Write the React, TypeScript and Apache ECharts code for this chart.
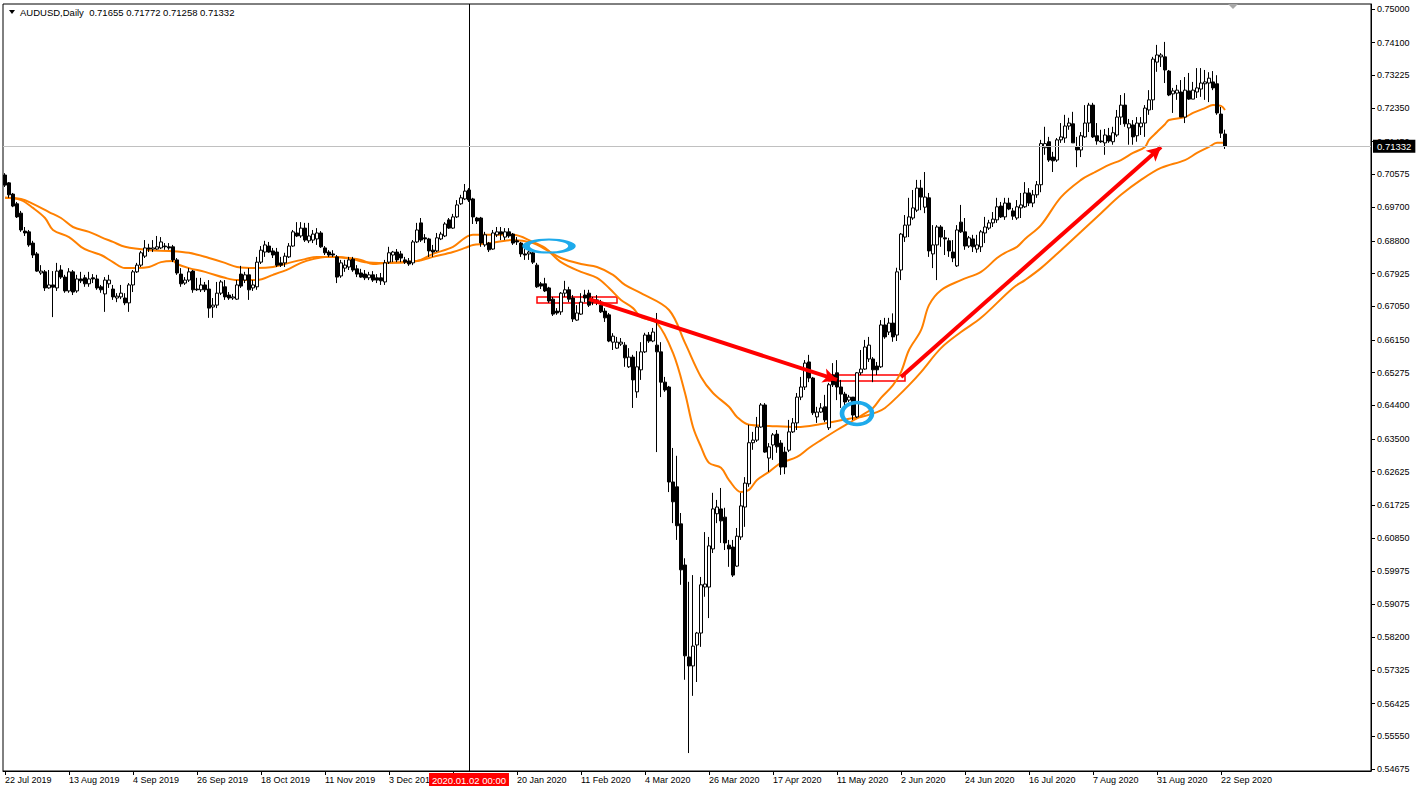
import React, { useEffect, useRef } from "react";
import * as echarts from "echarts";

// ---------- data ----------
const SYMBOL = "AUDUSD";
const PERIOD = "Daily";
const START = [2019, 6, 22]; // 22 Jul 2019
const HOLIDAYS = ["2019-12-25", "2020-01-01"];
const BAR_COUNT = 306;
const EMPTY_SLOTS = 36; // chart shift space on the right
const CROSSHAIR_DATE = "2 Jan 2020";
const CROSSHAIR_TEXT = "2020.01.02 00:00";

const open = [
  .7056,.7035,.7005,.6979,.6954,.6906,.6904,.6874,.6845,.6794,.6797,.6754,.6762,.6754,.6802,.6783,.6746,.6797,.6746,.6778,
  .6781,.6765,.6781,.6778,.6757,.6738,.6765,.6751,.6727,.6730,.6727,.6714,.6762,.6797,.6815,.6839,.6861,.6858,.6858,.6861,
  .6866,.6864,.6864,.6829,.6791,.6767,.6775,.6799,.6751,.6749,.6762,.6751,.6703,.6708,.6740,.6757,.6735,.6727,.6724,.6791,
  .6775,.6789,.6754,.6757,.6823,.6850,.6866,.6853,.6850,.6821,.6821,.6837,.6866,.6901,.6893,.6914,.6880,.6882,.6885,.6901,
  .6861,.6850,.6845,.6837,.6786,.6807,.6810,.6831,.6805,.6794,.6791,.6781,.6789,.6781,.6781,.6770,.6823,.6842,.6850,.6845,
  .6829,.6826,.6821,.6877,.6928,.6888,.6885,.6855,.6853,.6885,.6893,.6936,.6914,.6944,.6979,.6992,.7016,.6992,.6941,.6941,
  .6869,.6874,.6858,.6896,.6904,.6890,.6904,.6898,.6880,.6874,.6845,.6845,.6848,.6815,.6765,.6765,.6754,.6724,.6692,.6690,
  .6740,.6749,.6727,.6668,.6684,.6735,.6740,.6722,.6716,.6708,.6692,.6682,.6609,.6593,.6604,.6601,.6543,.6569,.6476,.6535,
  .6583,.6628,.6612,.6601,.6583,.6502,.6489,.6235,.6222,.6123,.6013,.5767,.5743,.5799,.5831,.5954,.5954,.6056,.6150,.6163,
  .6141,.6066,.6061,.6010,.6088,.6168,.6230,.6340,.6347,.6382,.6441,.6299,.6334,.6363,.6339,.6315,.6320,.6369,.6393,.6462,
  .6489,.6556,.6513,.6409,.6422,.6436,.6380,.6521,.6527,.6489,.6470,.6454,.6462,.6409,.6527,.6537,.6564,.6564,.6545,.6543,
  .6655,.6636,.6660,.6628,.6802,.6890,.6922,.6941,.6962,.7021,.6970,.6995,.6845,.6869,.6917,.6888,.6880,.6850,.6813,.6930,
  .6904,.6866,.6885,.6858,.6864,.6901,.6914,.6928,.6936,.6973,.6944,.6981,.6960,.6941,.6968,.6971,.7008,.6981,.7003,.7030,
  .7129,.7145,.7104,.7096,.7150,.7155,.7187,.7193,.7131,.7123,.7158,.7195,.7243,.7161,.7147,.7142,.7161,.7145,.7163,.7211,
  .7243,.7182,.7190,.7161,.7185,.7195,.7230,.7257,.7358,.7372,.7372,.7334,.7273,.7275,.7278,.7211,.7281,.7259,.7278,.7286,
  .7300,.7302,.7305,.7300,.7219,.71655,
];
const high = [
  .7061,.7037,.7008,.6984,.6960,.6917,.6909,.6880,.6850,.6815,.6802,.6802,.6799,.6821,.6815,.6789,.6807,.6802,.6789,.6797,
  .6789,.6797,.6791,.6789,.6762,.6783,.6789,.6762,.6740,.6762,.6740,.6767,.6802,.6821,.6853,.6882,.6872,.6882,.6893,.6890,
  .6874,.6874,.6869,.6834,.6807,.6783,.6807,.6802,.6781,.6781,.6770,.6775,.6727,.6770,.6775,.6775,.6743,.6738,.6775,.6813,
  .6797,.6807,.6775,.6837,.6866,.6880,.6877,.6861,.6861,.6837,.6848,.6874,.6909,.6930,.6930,.6928,.6928,.6909,.6914,.6906,
  .6866,.6855,.6855,.6842,.6829,.6829,.6837,.6837,.6815,.6805,.6802,.6797,.6799,.6791,.6794,.6829,.6864,.6853,.6858,.6853,
  .6837,.6834,.6882,.6928,.6941,.6898,.6888,.6869,.6901,.6904,.6930,.6941,.6952,.6989,.7003,.7032,.7021,.6995,.6944,.6944,
  .6904,.6877,.6909,.6917,.6917,.6914,.6914,.6901,.6890,.6877,.6858,.6855,.6853,.6821,.6770,.6781,.6757,.6730,.6700,.6743,
  .6773,.6757,.6735,.6708,.6740,.6749,.6749,.6730,.6735,.6722,.6700,.6687,.6633,.6623,.6620,.6609,.6593,.6575,.6585,.6609,
  .6634,.6636,.6647,.6687,.6609,.6516,.6492,.6326,.6305,.6152,.6031,.5968,.5986,.5834,.5981,.6101,.6088,.6206,.6187,.6219,
  .6166,.6080,.6080,.6112,.6206,.6248,.6388,.6369,.6409,.6446,.6446,.6339,.6366,.6374,.6347,.6329,.6401,.6406,.6473,.6516,
  .6561,.6575,.6516,.6436,.6446,.6468,.6500,.6553,.6561,.6508,.6476,.6468,.6462,.6529,.6588,.6615,.6623,.6569,.6556,.6668,
  .6674,.6674,.6686,.6808,.6901,.6949,.6995,.7016,.7043,.7043,.7064,.7008,.6922,.6922,.6922,.6909,.6888,.6882,.6922,.6976,
  .6941,.6893,.6896,.6896,.6909,.6944,.6936,.6957,.6995,.6984,.6995,.6995,.6968,.6989,.7008,.7037,.7021,.7016,.7040,.7150,
  .7185,.7158,.7118,.7155,.7195,.7217,.7209,.7225,.7158,.7171,.7243,.7249,.7249,.7195,.7177,.7179,.7182,.7185,.7230,.7270,
  .7275,.7206,.7203,.7211,.7211,.7243,.7283,.7372,.7404,.7382,.7412,.7337,.7289,.7297,.7310,.7318,.7329,.7305,.7342,.7342,
  .7337,.7331,.7334,.7323,.7238,.71772,
];
const low = [
  .7024,.6995,.6970,.6941,.6904,.6893,.6864,.6834,.6797,.6789,.6746,.6752,.6676,.6746,.6778,.6741,.6741,.6735,.6741,.6767,
  .6757,.6757,.6767,.6749,.6741,.6690,.6754,.6722,.6716,.6724,.6708,.6690,.6743,.6794,.6810,.6834,.6850,.6850,.6856,.6858,
  .6856,.6856,.6823,.6789,.6757,.6762,.6770,.6741,.6746,.6743,.6743,.6674,.6674,.6700,.6735,.6722,.6722,.6722,.6722,.6754,
  .6767,.6722,.6746,.6749,.6818,.6837,.6848,.6834,.6810,.6810,.6810,.6834,.6864,.6890,.6888,.6877,.6874,.6874,.6869,.6861,
  .6842,.6837,.6837,.6767,.6781,.6797,.6802,.6797,.6783,.6781,.6775,.6775,.6770,.6767,.6762,.6762,.6818,.6823,.6823,.6823,
  .6818,.6813,.6815,.6874,.6877,.6874,.6837,.6837,.6850,.6882,.6890,.6912,.6912,.6941,.6976,.6989,.6984,.6925,.6925,.6864,
  .6864,.6850,.6856,.6890,.6882,.6882,.6888,.6869,.6869,.6837,.6829,.6829,.6818,.6754,.6751,.6743,.6714,.6679,.6682,.6682,
  .6730,.6716,.6663,.6666,.6682,.6716,.6703,.6708,.6708,.6687,.6663,.6609,.6588,.6591,.6599,.6543,.6540,.6433,.6460,.6508,
  .6580,.6607,.6609,.6315,.6462,.6476,.6208,.6125,.6080,.5960,.5706,.5510,.5663,.5700,.5794,.5928,.5871,.6045,.6125,.6072,
  .6053,.6008,.5981,.6008,.6080,.6115,.6222,.6321,.6342,.6380,.6313,.6262,.6294,.6313,.6254,.6256,.6315,.6366,.6374,.6454,
  .6481,.6502,.6414,.6393,.6420,.6395,.6374,.6489,.6454,.6433,.6428,.6449,.6401,.6406,.6521,.6535,.6556,.6502,.6521,.6540,
  .6618,.6628,.6610,.6612,.6775,.6877,.6890,.6936,.6957,.6962,.6954,.6837,.6807,.6775,.6864,.6842,.6837,.6823,.6810,.6901,
  .6856,.6861,.6850,.6848,.6850,.6874,.6909,.6917,.6928,.6941,.6936,.6962,.6936,.6936,.6941,.6968,.6973,.6970,.6995,.7010,
  .7110,.7091,.7064,.7091,.7142,.7142,.7177,.7142,.7077,.7104,.7155,.7171,.7155,.7137,.7142,.7110,.7142,.7137,.7158,.7190,
  .7185,.7137,.7137,.7145,.7163,.7158,.7217,.7230,.7332,.7345,.7302,.7267,.7222,.7257,.7211,.7195,.7257,.7259,.7262,.7265,
  .7257,.7251,.7283,.7217,.7155,.71258,
];
const close = [
  .7029,.7003,.6973,.6944,.6909,.6901,.6869,.6842,.6799,.6799,.6754,.6762,.6756,.6799,.6783,.6746,.6797,.6743,.6778,.6773,
  .6765,.6778,.6778,.6754,.6749,.6775,.6775,.6730,.6732,.6740,.6714,.6762,.6797,.6815,.6848,.6861,.6858,.6861,.6864,.6877,
  .6864,.6861,.6829,.6794,.6765,.6775,.6797,.6749,.6749,.6762,.6749,.6700,.6708,.6740,.6770,.6730,.6727,.6730,.6762,.6759,
  .6789,.6749,.6762,.6823,.6855,.6869,.6850,.6842,.6815,.6815,.6839,.6866,.6904,.6893,.6914,.6882,.6893,.6898,.6901,.6864,
  .6848,.6842,.6842,.6783,.6821,.6815,.6829,.6802,.6791,.6783,.6781,.6789,.6775,.6775,.6773,.6821,.6848,.6850,.6829,.6834,
  .6823,.6818,.6877,.6909,.6882,.6885,.6853,.6850,.6888,.6898,.6925,.6914,.6944,.6976,.6995,.7013,.6989,.6944,.6933,.6874,
  .6896,.6856,.6901,.6904,.6898,.6904,.6893,.6874,.6877,.6845,.6842,.6850,.6823,.6757,.6759,.6746,.6719,.6684,.6687,.6740,
  .6749,.6724,.6671,.6687,.6716,.6727,.6708,.6716,.6722,.6690,.6674,.6612,.6625,.6609,.6609,.6567,.6569,.6508,.6543,.6583,
  .6628,.6612,.6636,.6583,.6502,.6481,.6235,.6182,.6118,.6000,.5770,.5743,.5796,.5831,.5960,.5962,.6064,.6163,.6168,.6131,
  .6072,.6056,.5986,.6090,.6171,.6232,.6340,.6347,.6382,.6441,.6315,.6329,.6361,.6329,.6275,.6275,.6369,.6393,.6462,.6489,
  .6553,.6513,.6420,.6422,.6433,.6401,.6495,.6495,.6489,.6470,.6449,.6462,.6414,.6527,.6537,.6596,.6601,.6535,.6535,.6655,
  .6623,.6660,.6623,.6797,.6898,.6922,.6944,.6968,.7021,.6997,.6997,.6853,.6869,.6917,.6890,.6885,.6853,.6834,.6909,.6904,
  .6866,.6888,.6864,.6869,.6904,.6917,.6928,.6938,.6971,.6944,.6981,.6965,.6946,.6971,.6976,.7008,.6981,.7003,.7030,.7140,
  .7140,.7096,.7094,.7150,.7158,.7187,.7195,.7142,.7123,.7161,.7195,.7243,.7158,.7147,.7145,.7163,.7147,.7169,.7211,.7243,
  .7193,.7193,.7158,.7195,.7195,.7235,.7257,.7366,.7377,.7377,.7337,.7270,.7281,.7283,.7211,.7283,.7259,.7283,.7289,.7302,
  .7305,.7315,.7289,.7222,.7168,.71332,
];

// moving averages: bar index / value
const maFastIdx = [0,4,7,10,12,16,19,21,24,27,30,33,36,39,42,43,46,50,55,58,63,67,71,74,77,80,83,85,89,92,95,103,107,112,115,117,120,127,132,135,139,144,148,151,154,157,159,163,167,170,172,174,176,179,181,184,186,188,191,194,198,201,204,208,211,214,217,219,222,224,226,229,231,234,239,244,248,250,253,255,259,264,269,272,276,279,282,285,286,288,290,291,295,297,300,302,304,305];
const maFastVal = [.6995,.6989,.6968,.6941,.6909,.6890,.6864,.6853,.6842,.6823,.6807,.6807,.6810,.6823,.6826,.6818,.6807,.6797,.6781,.6775,.6775,.6789,.6805,.6821,.6831,.6837,.6837,.6834,.6829,.6818,.6821,.6826,.6845,.6864,.6888,.6896,.6896,.6896,.6877,.6861,.6823,.6797,.6781,.6754,.6722,.6700,.6676,.6660,.6580,.6473,.6382,.6329,.6286,.6273,.6240,.6208,.6214,.6240,.6262,.6286,.6302,.6326,.6347,.6374,.6393,.6412,.6433,.6460,.6494,.6529,.6588,.6641,.6708,.6748,.6775,.6797,.6834,.6848,.6864,.6885,.6922,.6997,.7043,.7061,.7083,.7096,.7115,.7131,.7150,.7171,.7192,.7203,.7211,.7222,.7235,.7243,.7241,.7230];
const maSlowIdx = [0,4,7,11,14,17,21,24,27,30,36,41,46,51,55,58,63,67,71,75,78,82,86,90,95,103,107,112,115,117,120,127,132,135,139,144,148,152,155,159,166,170,174,177,181,183,186,191,198,204,211,214,218,220,223,226,229,234,239,244,252,255,259,264,269,274,279,284,289,295,298,301,303,305];
const maSlowVal = [.6995,.6992,.6979,.6957,.6941,.6917,.6904,.6890,.6877,.6864,.6855,.6853,.6848,.6834,.6821,.6810,.6807,.6810,.6821,.6831,.6837,.6837,.6834,.6823,.6821,.6826,.6837,.6850,.6861,.6869,.6872,.6882,.6874,.6858,.6834,.6818,.6810,.6789,.6762,.6740,.6695,.6607,.6516,.6473,.6436,.6409,.6388,.6385,.6382,.6390,.6404,.6409,.6422,.6433,.6462,.6494,.6529,.6593,.6636,.6674,.6754,.6775,.6807,.6855,.6904,.6954,.7003,.7043,.7075,.7096,.7115,.7131,.7142,.7142];

const yTickLabels = ["0.75000","0.74100","0.73225","0.72350","0.71450","0.70575","0.69700","0.68800","0.67925","0.67050","0.66150","0.65275","0.64400","0.63500","0.62625","0.61725","0.60850","0.59975","0.59075","0.58200","0.57325","0.56425","0.55550","0.54675"];

// annotations (bar index, price)
const arrows = [
  { from: [146, 0.6724], to: [208, 0.6508] },
  { from: [224, 0.6516], to: [289, 0.7131] },
];
const boxes = [
  { from: [133, 0.6730], to: [153, 0.6714] },
  { from: [206, 0.6521], to: [225, 0.6505] },
];
const ellipses = [
  { at: [136, 0.6866], size: [46, 13] },
  { at: [213, 0.6418], size: [30, 22] },
];

// ---------- layout constants ----------
const Y_MIN = 0.54620;
const Y_MAX = 0.75134;
const FONT = '"Liberation Sans", Arial, sans-serif';
const ORANGE = "#FF8000";
const BLUE = "#1EAAEB";
const MONTHS = ["Jan","Feb","Mar","Apr","May","Jun","Jul","Aug","Sep","Oct","Nov","Dec"];

function buildDates(): string[] {
  const out: string[] = [];
  const d = new Date(Date.UTC(START[0], START[1], START[2]));
  while (out.length < BAR_COUNT) {
    const dow = d.getUTCDay();
    const iso = d.toISOString().slice(0, 10);
    if (dow !== 0 && dow !== 6 && !HOLIDAYS.includes(iso)) {
      out.push(`${d.getUTCDate()} ${MONTHS[d.getUTCMonth()]} ${d.getUTCFullYear()}`);
    }
    d.setUTCDate(d.getUTCDate() + 1);
  }
  return out;
}

export default function App() {
  const ref = useRef<HTMLDivElement>(null);
  useEffect(() => {
    if (!ref.current) return;
    const chart = echarts.init(ref.current, undefined, { renderer: "svg" });
    const dates = buildDates();
    const cats = dates.concat(Array.from({ length: EMPTY_SLOTS }, () => ""));
    const crossIdx = dates.indexOf(CROSSHAIR_DATE);
    const candles = open.map((o, i) => [o, close[i], low[i], high[i]]);
    const last = BAR_COUNT - 1;
    const tickVals = yTickLabels.map(Number);
    const showTick = (i: number) => i % 16 === 0 && i < BAR_COUNT;
    const showLabel = (i: number) => showTick(i) && Math.abs(i - crossIdx) > 8;

    const header = `${SYMBOL},${PERIOD}  ${open[last].toFixed(5)} ${high[last].toFixed(5)} ${low[last].toFixed(5)} ${close[last].toFixed(5)}`;

    chart.setOption({
      animation: false,
      backgroundColor: "#fff",
      textStyle: { fontFamily: FONT },
      grid: { left: 3, right: 49, top: 4, bottom: 24, show: true, borderColor: "#000", borderWidth: 1, backgroundColor: "#fff" },
      xAxis: {
        type: "category",
        data: cats,
        boundaryGap: true,
        axisLine: { show: true, lineStyle: { color: "#000", width: 1 } },
        axisTick: { show: true, alignWithLabel: true, length: 4, interval: (i: number) => showTick(i), lineStyle: { color: "#000" } },
        axisLabel: {
          show: true, interval: (i: number) => showLabel(i), align: "left", margin: 4,
          fontSize: 9, color: "#000", fontFamily: FONT, hideOverlap: false,
        },
        splitLine: { show: false },
      },
      yAxis: {
        type: "value",
        position: "right",
        min: Y_MIN,
        max: Y_MAX,
        scale: true,
        axisLine: { show: true, lineStyle: { color: "#000", width: 1 } },
        axisTick: { show: true, customValues: tickVals, length: 4, lineStyle: { color: "#000" } },
        axisLabel: {
          show: true, customValues: tickVals, formatter: (v: number) => v.toFixed(5),
          fontSize: 9, color: "#000", margin: 6, fontFamily: FONT,
        },
        splitLine: { show: false },
      },
      graphic: [
        { type: "polygon", shape: { points: [[9, 10], [15, 10], [12, 14]] }, style: { fill: "#000" }, z: 100 },
        { type: "text", left: 20, top: 7, style: { text: header, font: `9.5px ${FONT}`, fill: "#000" }, z: 100 },
        { type: "polygon", shape: { points: [[1228, 4], [1238, 4], [1233, 9]] }, style: { fill: "#a8a8a8" }, z: 100 },
      ],
      series: [
        {
          type: "candlestick",
          name: SYMBOL,
          data: candles,
          barWidth: 3,
          z: 4,
          itemStyle: { color: "#fff", color0: "#000", borderColor: "#000", borderColor0: "#000", borderWidth: 1 },
          markLine: {
            silent: true,
            symbol: ["none", "none"],
            animation: false,
            data: [
              {
                xAxis: crossIdx,
                lineStyle: { color: "#000", width: 1, type: "solid" },
                label: {
                  show: true, position: "start", formatter: CROSSHAIR_TEXT, distance: 2,
                  backgroundColor: "#ff0000", color: "#fff", padding: [2, 3, 1, 3], fontSize: 9.5, fontFamily: FONT,
                },
              },
            ],
          },
        },
        {
          type: "line",
          name: "MA fast",
          data: maFastIdx.map((x, k) => [x, maFastVal[k]]),
          smooth: 0.35,
          showSymbol: false,
          symbol: "none",
          lineStyle: { color: ORANGE, width: 2 },
          z: 3,
          markLine: {
            silent: true,
            symbol: ["none", "arrow"],
            symbolSize: [11, 14],
            precision: 5,
            animation: false,
            label: { show: false },
            lineStyle: { color: "#ff0000", width: 4, type: "solid" },
            data: arrows.map((a) => [{ coord: a.from }, { coord: a.to }]),
          },
        },
        {
          type: "line",
          name: "MA slow",
          data: maSlowIdx.map((x, k) => [x, maSlowVal[k]]),
          smooth: 0.35,
          showSymbol: false,
          symbol: "none",
          lineStyle: { color: ORANGE, width: 2 },
          z: 3,
          markLine: {
            silent: true,
            symbol: ["none", "none"],
            precision: 5,
            animation: false,
            data: [
              {
                yAxis: close[last],
                lineStyle: { color: "#c0c0c0", width: 1, type: "solid" },
                label: {
                  show: true, position: "end", formatter: close[last].toFixed(5), distance: 2,
                  backgroundColor: "#000", color: "#fff", padding: [2, 4, 1, 4], fontSize: 9.5, fontFamily: FONT,
                },
              },
            ],
          },
          markArea: {
            silent: true,
            itemStyle: { color: "rgba(0,0,0,0)", borderColor: "#ff0000", borderWidth: 1.5 },
            label: { show: false },
            data: boxes.map((b) => [{ coord: b.from }, { coord: b.to }]),
          },
          markPoint: {
            silent: true,
            symbol: "path://M0,50 A50,50 0 1,1 100,50 A50,50 0 1,1 0,50 Z",
            label: { show: false },
            itemStyle: { color: "rgba(0,0,0,0)", borderColor: BLUE, borderWidth: 4 },
            data: ellipses.map((e) => ({ coord: e.at, symbolSize: e.size })),
          },
        },
      ],
    });
    return () => chart.dispose();
  }, []);
  return <div ref={ref} style={{ position: "fixed", left: 0, top: 0, width: 1420, height: 795 }} />;
}
